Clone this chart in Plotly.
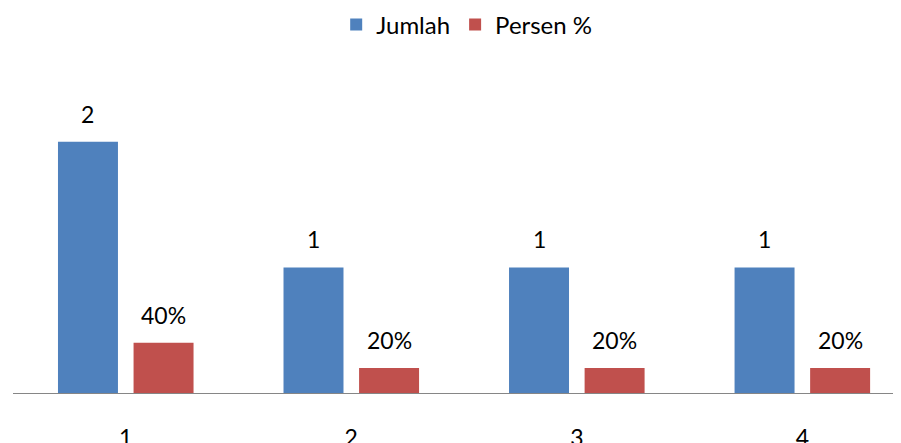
import plotly.graph_objects as go

categories = ["1", "2", "3", "4"]
jumlah = [2, 1, 1, 1]
persen = [0.4, 0.2, 0.2, 0.2]
jumlah_labels = ["2", "1", "1", "1"]
persen_labels = ["40%", "20%", "20%", "20%"]

BLUE = "#4F81BD"
RED = "#C0504D"
FONT = "Lato, Carlito, Calibri, sans-serif"

# the page adds an 8px body margin, so figure coordinates are offset by 8px
OFF = 8
W, H = 901, 443
ML, MR, MT = 12.7 - OFF, 0, 79 - OFF
MB = H - (393 - OFF)
cat_px = 225.6
plot_w = W - ML - MR
plot_h = H - MT - MB
slot_px = 75.6

fig = go.Figure()
fig.add_trace(go.Bar(name="Jumlah", x=categories, y=jumlah, marker=dict(color=BLUE, line=dict(width=0))))
fig.add_trace(go.Bar(name="Persen %", x=categories, y=persen, marker=dict(color=RED, line=dict(width=0))))

annotations = []
for series, labels, sign in ((jumlah, jumlah_labels, -1), (persen, persen_labels, 1)):
    for i, (v, t) in enumerate(zip(series, labels)):
        annotations.append(dict(
            x=i, y=v, xref="x", yref="y", text=t, showarrow=False,
            xshift=sign * slot_px / 2, yshift=12, yanchor="bottom",
            font=dict(family=FONT, size=23, color="#000000"),
        ))

fig.update_layout(
    width=W, height=H,
    margin=dict(l=ML, r=MR, t=MT, b=MB, pad=0, autoexpand=False),
    paper_bgcolor="white", plot_bgcolor="white",
    barmode="group", bargap=1 - 2 * slot_px / cat_px, bargroupgap=1 - 60 / slot_px,
    font=dict(family=FONT, size=23, color="#000000"),
    showlegend=True,
    legend=dict(orientation="h", x=(328 - ML) / plot_w, xanchor="left",
                y=1 + (MT - (25 - OFF)) / plot_h, yanchor="middle",
                font=dict(family=FONT, size=24, color="#000000"),
                bgcolor="rgba(0,0,0,0)"),
    annotations=annotations,
    xaxis=dict(type="category", range=[-0.5, -0.5 + plot_w / cat_px],
               showline=True, linecolor="#868686", linewidth=1,
               showgrid=False, zeroline=False, ticks="", ticklabelstandoff=24,
               tickfont=dict(family=FONT, size=23, color="#000000")),
    yaxis=dict(range=[0, 2.5], visible=False, showgrid=False, zeroline=False),
)

fig.write_html("out.html")
